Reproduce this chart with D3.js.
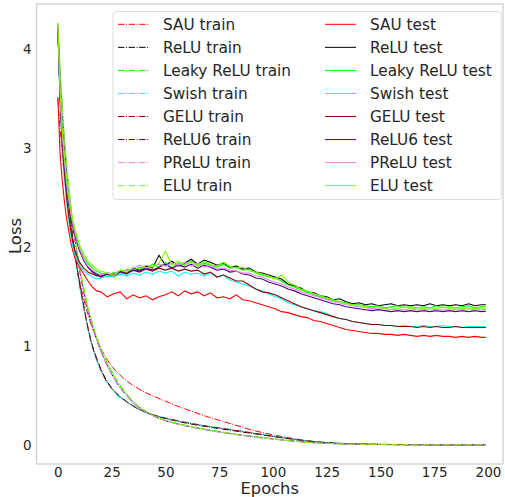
<!DOCTYPE html>
<html><head><meta charset="utf-8">
<script src="https://cdn.jsdelivr.net/npm/d3@7"></script>
<style>body{margin:0;background:#fff;} svg{display:block;font-family:"DejaVu Sans",sans-serif;}</style>
</head><body><svg id="c" width="505" height="497"></svg>
<script>
const activations = ["SAU","ReLU","Leaky ReLU","Swish","GELU","ReLU6","PReLU","ELU"];
const colors = ["#ff0000","#000000","#00ff00","#00ffff","#8b0000","#4b0082","#ee82ee","#7cfc00"];
const xTicks = [0,25,50,75,100,125,150,175,200];
const yTicks = [0,1,2,3,4];

const trainEpochs = [0,1,2,3,4,5,6,7,8,10,12,14,16,18,20,22,25,28,32,36,40,45,50,55,60,70,80,90,100,110,120,130,140,150,160,170,180,190,199];
const sauTrain   = [3.5,3.2,2.95,2.72,2.52,2.34,2.18,2.03,1.9,1.67,1.48,1.32,1.19,1.08,0.98,0.9,0.8,0.73,0.65,0.59,0.54,0.49,0.445,0.4,0.36,0.285,0.22,0.155,0.105,0.065,0.032,0.018,0.011,0.008,0.006,0.005,0.004,0.004,0.004];
const reluTrain  = [4.22,3.72,3.31,2.98,2.71,2.47,2.27,2.09,1.93,1.65,1.41,1.19,1.01,0.88,0.77,0.68,0.58,0.51,0.44,0.385,0.34,0.3,0.27,0.245,0.222,0.185,0.152,0.12,0.088,0.058,0.034,0.02,0.012,0.008,0.006,0.005,0.004,0.004,0.004];
const leakyTrain = [4.26,3.8,3.42,3.1,2.84,2.61,2.41,2.24,2.09,1.81,1.58,1.39,1.23,1.09,0.97,0.87,0.74,0.63,0.51,0.42,0.355,0.295,0.252,0.222,0.197,0.156,0.12,0.09,0.065,0.042,0.025,0.015,0.01,0.007,0.005,0.004,0.004,0.004,0.004];
const swishTrain = [4.18,3.68,3.28,2.95,2.68,2.44,2.24,2.06,1.9,1.62,1.38,1.17,0.99,0.86,0.75,0.66,0.57,0.5,0.435,0.38,0.34,0.305,0.277,0.252,0.23,0.193,0.162,0.128,0.094,0.062,0.036,0.021,0.013,0.009,0.006,0.005,0.004,0.004,0.004];
const geluTrain  = [4.2,3.7,3.3,2.97,2.7,2.46,2.26,2.08,1.92,1.64,1.4,1.18,1.0,0.87,0.76,0.67,0.575,0.505,0.44,0.383,0.342,0.303,0.274,0.25,0.228,0.19,0.158,0.125,0.091,0.06,0.035,0.02,0.012,0.008,0.006,0.005,0.004,0.004,0.004];
const relu6Train = [4.23,3.76,3.38,3.06,2.8,2.58,2.38,2.21,2.06,1.78,1.55,1.36,1.2,1.07,0.95,0.85,0.72,0.61,0.5,0.41,0.348,0.29,0.248,0.219,0.194,0.153,0.118,0.088,0.063,0.041,0.024,0.015,0.01,0.007,0.005,0.004,0.004,0.004,0.004];
const preluTrain = [4.25,3.78,3.4,3.08,2.82,2.59,2.39,2.22,2.07,1.79,1.56,1.37,1.21,1.07,0.95,0.85,0.72,0.61,0.5,0.41,0.347,0.288,0.246,0.216,0.191,0.15,0.115,0.086,0.062,0.04,0.023,0.014,0.009,0.006,0.005,0.004,0.004,0.004,0.004];
const eluTrain   = [4.27,3.82,3.44,3.12,2.86,2.63,2.43,2.26,2.11,1.83,1.6,1.4,1.24,1.1,0.98,0.88,0.75,0.64,0.52,0.425,0.357,0.296,0.253,0.222,0.196,0.155,0.119,0.089,0.064,0.041,0.024,0.015,0.01,0.007,0.005,0.004,0.004,0.004,0.004];

const testEpochs = [0,1,2,3,4,5,6,7,8,10,12,14,16,18,
  20,23,26,29,32,35,38,41,44,47, 50,53,56,59,62,65,68,71,74,77,
  80,83,86,89,92,95,98,101,104,107, 110,113,116,119,122,125,128,131,134,137,
  140,143,146,149,152,155,158,161,164,167, 170,173,176,179,182,185,188,191,194,197, 199];
const sauTest = [3.52,2.95,2.68,2.47,2.3,2.17,2.05,1.96,1.89,1.80,1.73,1.66,1.60,1.56,
  1.55,1.50,1.53,1.55,1.48,1.52,1.49,1.51,1.47,1.50, 1.52,1.55,1.51,1.56,1.53,1.55,1.51,1.54,1.49,1.50,
  1.48,1.52,1.47,1.46,1.44,1.42,1.40,1.38,1.35,1.34, 1.32,1.30,1.29,1.26,1.25,1.23,1.21,1.19,1.17,1.16,
  1.15,1.14,1.13,1.13,1.12,1.12,1.11,1.12,1.11,1.10, 1.11,1.10,1.11,1.10,1.10,1.09,1.10,1.09,1.10,1.09, 1.09];
const reluTest = [4.22,3.55,3.12,2.86,2.63,2.46,2.33,2.22,2.13,1.98,1.87,1.80,1.76,1.73,
  1.71,1.73,1.72,1.76,1.74,1.79,1.77,1.81,1.79,1.92, 1.82,1.86,1.81,1.84,1.88,1.83,1.87,1.85,1.82,1.84,
  1.80,1.81,1.78,1.79,1.75,1.74,1.72,1.70,1.68,1.63, 1.61,1.59,1.55,1.54,1.51,1.50,1.47,1.48,1.45,1.43,
  1.44,1.42,1.43,1.41,1.42,1.43,1.41,1.42,1.41,1.42, 1.41,1.43,1.41,1.42,1.41,1.42,1.41,1.43,1.41,1.42, 1.42];
const leakyTest = [4.26,3.6,3.16,2.9,2.66,2.49,2.35,2.24,2.15,2.0,1.9,1.84,1.79,1.76,
  1.74,1.70,1.75,1.72,1.78,1.76,1.80,1.78,1.83,1.80, 1.85,1.79,1.84,1.82,1.86,1.81,1.84,1.82,1.80,1.83,
  1.79,1.80,1.77,1.78,1.74,1.72,1.70,1.69,1.66,1.62, 1.60,1.57,1.55,1.52,1.50,1.48,1.46,1.45,1.44,1.42,
  1.42,1.41,1.40,1.41,1.39,1.40,1.41,1.39,1.40,1.39, 1.40,1.39,1.41,1.39,1.40,1.39,1.40,1.41,1.39,1.40, 1.40];
const swishTest = [4.2,3.48,3.02,2.72,2.48,2.28,2.12,2.0,1.92,1.82,1.76,1.73,1.70,1.68,
  1.69,1.71,1.70,1.73,1.71,1.74,1.72,1.75,1.73,1.76, 1.74,1.76,1.71,1.75,1.73,1.74,1.71,1.74,1.70,1.72,
  1.67,1.65,1.63,1.61,1.58,1.56,1.53,1.50,1.48,1.44, 1.42,1.40,1.38,1.36,1.35,1.33,1.30,1.28,1.27,1.25,
  1.24,1.23,1.22,1.22,1.21,1.21,1.20,1.21,1.20,1.20, 1.21,1.20,1.20,1.21,1.20,1.20,1.19,1.20,1.20,1.20, 1.20];
const geluTest = [4.2,3.5,3.05,2.76,2.52,2.33,2.17,2.05,1.96,1.85,1.79,1.75,1.73,1.71,
  1.72,1.74,1.73,1.76,1.74,1.77,1.75,1.78,1.76,1.79, 1.77,1.79,1.76,1.78,1.76,1.77,1.73,1.75,1.70,1.72,
  1.69,1.66,1.66,1.62,1.58,1.55,1.54,1.52,1.49,1.46, 1.43,1.40,1.38,1.36,1.34,1.32,1.30,1.28,1.27,1.25,
  1.24,1.23,1.22,1.22,1.21,1.21,1.20,1.20,1.20,1.19, 1.20,1.19,1.20,1.19,1.19,1.20,1.19,1.19,1.19,1.19, 1.19];
const relu6Test = [4.22,3.55,3.12,2.85,2.62,2.45,2.32,2.21,2.12,1.97,1.87,1.80,1.75,1.72,
  1.70,1.73,1.71,1.75,1.73,1.77,1.76,1.79,1.77,1.80, 1.83,1.79,1.82,1.80,1.83,1.79,1.82,1.80,1.77,1.78,
  1.75,1.76,1.73,1.72,1.69,1.68,1.65,1.63,1.61,1.58, 1.56,1.53,1.51,1.49,1.47,1.45,1.43,1.42,1.40,1.39,
  1.38,1.37,1.36,1.37,1.36,1.35,1.36,1.35,1.36,1.35, 1.36,1.35,1.36,1.35,1.36,1.35,1.36,1.35,1.36,1.35, 1.355];
const preluTest = [4.26,3.58,3.15,2.88,2.65,2.48,2.34,2.23,2.14,1.99,1.88,1.81,1.77,1.74,
  1.72,1.74,1.73,1.77,1.76,1.79,1.82,1.79,1.81,1.83, 1.81,1.84,1.82,1.85,1.81,1.84,1.80,1.82,1.78,1.79,
  1.77,1.76,1.74,1.74,1.71,1.70,1.67,1.65,1.63,1.60, 1.58,1.55,1.53,1.51,1.49,1.47,1.45,1.44,1.42,1.41,
  1.40,1.39,1.38,1.39,1.38,1.37,1.38,1.37,1.38,1.37, 1.37,1.38,1.37,1.37,1.38,1.37,1.37,1.38,1.37,1.37, 1.37];
const eluTest = [4.26,3.62,3.2,2.93,2.7,2.52,2.38,2.27,2.18,2.03,1.93,1.86,1.82,1.78,
  1.76,1.74,1.71,1.77,1.75,1.80,1.78,1.82,1.80,1.84, 1.96,1.82,1.86,1.83,1.85,1.82,1.86,1.83,1.81,1.85,
  1.81,1.79,1.80,1.76,1.75,1.73,1.71,1.68,1.72,1.65, 1.62,1.58,1.56,1.53,1.51,1.49,1.47,1.45,1.43,1.42,
  1.41,1.40,1.39,1.40,1.38,1.39,1.38,1.40,1.38,1.39, 1.38,1.39,1.38,1.40,1.38,1.39,1.38,1.39,1.38,1.39, 1.38];

const trainSets = [sauTrain,reluTrain,leakyTrain,swishTrain,geluTrain,relu6Train,preluTrain,eluTrain];
const testSets  = [sauTest,reluTest,leakyTest,swishTest,geluTest,relu6Test,preluTest,eluTest];

const svg = d3.select("#c");
const L = 36.5, R = 503, T = 4, B = 464;
const x = d3.scaleLinear().domain([-9.95, 207]).range([L, R]);
const y = d3.scaleLinear().domain([-0.19, 4.46]).range([B, T]);

svg.append("defs").append("clipPath").attr("id","clip")
  .append("rect").attr("x",L).attr("y",T).attr("width",R-L).attr("height",B-T);

const line = d3.line().x(d=>x(d[0])).y(d=>y(d[1]));
const g = svg.append("g").attr("clip-path","url(#clip)");
const DASH = "6.4,1.6,1,1.6";
trainSets.forEach((vals,i)=>{
  const pts = vals.map((v,k)=>[trainEpochs[k],v]).filter(d=>d[0]!==undefined);
  g.append("path").attr("d",line.curve(d3.curveMonotoneX)(pts)).attr("fill","none")
    .attr("stroke",colors[i]).attr("stroke-width",1).attr("stroke-dasharray",DASH);
});
testSets.forEach((vals,i)=>{
  const pts = vals.map((v,k)=>[testEpochs[k],v]).filter(d=>d[0]!==undefined);
  g.append("path").attr("d",line.curve(d3.curveLinear)(pts)).attr("fill","none")
    .attr("stroke",colors[i]).attr("stroke-width",1.1);
});

// axes
const tickColor = "#262626";
const xa = svg.append("g").attr("transform",`translate(0,${B})`)
  .call(d3.axisBottom(x).tickValues(xTicks).tickSize(0).tickPadding(3).tickFormat(d3.format("d")));
const ya = svg.append("g").attr("transform",`translate(${L},0)`)
  .call(d3.axisLeft(y).tickValues(yTicks).tickSize(0).tickPadding(5).tickFormat(d3.format("d")));
[xa,ya].forEach(a=>{a.select(".domain").remove();
  a.selectAll("text").attr("font-family","DejaVu Sans").attr("font-size",13.5).attr("fill",tickColor);});

svg.append("rect").attr("x",L).attr("y",T).attr("width",R-L).attr("height",B-T)
  .attr("fill","none").attr("stroke","#cccccc").attr("stroke-width",1.2);

svg.append("text").attr("x",(L+R)/2).attr("y",493.5).attr("text-anchor","middle")
  .attr("font-size",16.3).attr("fill",tickColor).text("Epochs");
svg.append("text").attr("transform",`translate(21,${(T+B)/2 + 2}) rotate(-90)`).attr("text-anchor","middle")
  .attr("font-size",16.5).attr("fill",tickColor).text("Loss");

// legend
const lg = svg.append("g");
lg.append("rect").attr("x",113).attr("y",11.5).attr("width",388).attr("height",188).attr("rx",3)
  .attr("fill","#ffffff").attr("fill-opacity",0.8).attr("stroke","#dddddd").attr("stroke-width",1);
const entries = [];
activations.forEach((a,i)=>entries.push({label:a+" train",color:colors[i],dash:true,col:0,row:i}));
activations.forEach((a,i)=>entries.push({label:a+" test",color:colors[i],dash:false,col:1,row:i}));
const colX = [118, 325], rowY0 = 24.3, rowH = 23.05;
entries.forEach(e=>{
  const yy = rowY0 + e.row*rowH, xx = colX[e.col];
  lg.append("line").attr("x1",xx).attr("x2",xx+31).attr("y1",yy).attr("y2",yy)
    .attr("stroke",e.color).attr("stroke-width",1).attr("stroke-dasharray",e.dash?DASH:null);
  lg.append("text").attr("x",xx+45).attr("y",yy).attr("dy","0.35em").attr("font-size",15.3)
    .attr("fill",tickColor).text(e.label);
});
</script></body></html>
